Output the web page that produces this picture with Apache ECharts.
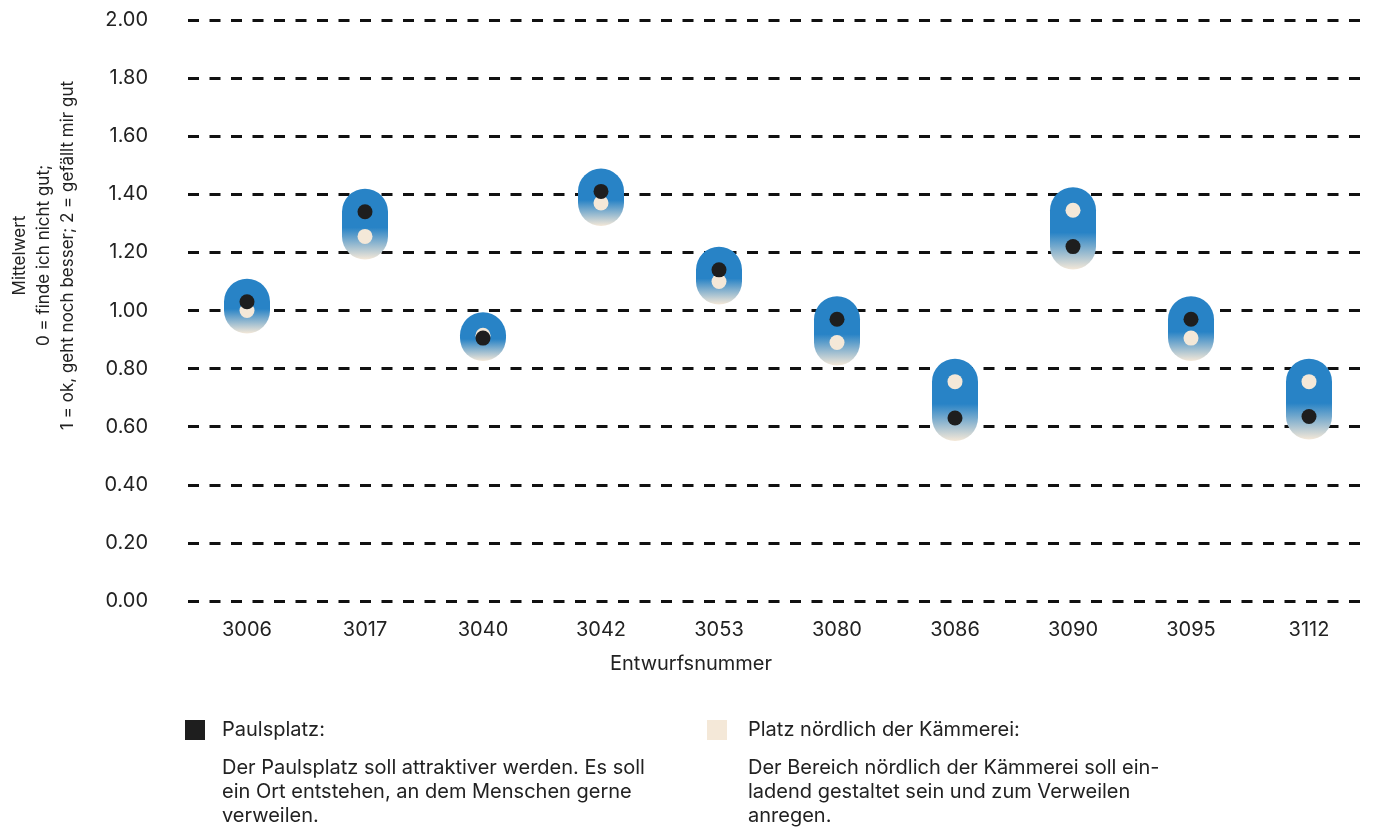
<!DOCTYPE html>
<html>
<head>
<meta charset="utf-8">
<title>Mittelwert je Entwurf</title>
<script src="https://cdn.jsdelivr.net/npm/echarts@6/dist/echarts.min.js"></script>
<style>
  html, body { margin: 0; padding: 0; background: #fff; }
  #chart { width: 1382px; height: 828px; }
</style>
</head>
<body>
<div id="chart"></div>
<script>
// Entwurfsnummern
const entwuerfe = ['3006', '3017', '3040', '3042', '3053', '3080', '3086', '3090', '3095', '3112']
// Mittelwerte Paulsplatz (schwarz)
const paulsplatz = [1.03, 1.34, 0.905, 1.41, 1.14, 0.97, 0.63, 1.22, 0.97, 0.635]
// Mittelwerte Platz nördlich der Kämmerei (beige)
const kaemmerei = [1.00, 1.255, 0.915, 1.37, 1.10, 0.89, 0.755, 1.345, 0.905, 0.755]

const BLUE = '#2883c6'
const BEIGE = '#f4e8d8'
const BLACK = '#1e1e1e'
const FONT = 'Inter'

// Spanne je Entwurf fuer die Kapsel
const spannen = entwuerfe.map((e, i) => [i, Math.min(paulsplatz[i], kaemmerei[i]), Math.max(paulsplatz[i], kaemmerei[i])])

const chart = echarts.init(document.getElementById('chart'))

chart.setOption({
  animation: false,
  textStyle: { fontFamily: FONT },
  grid: { left: 186, right: 14, top: 20, bottom: 227 },
  legend: [
    {
      data: ['Paulsplatz'],
      left: 185, top: 720, padding: 0,
      icon: 'rect', itemWidth: 20, itemHeight: 20,
      formatter: n => n + ':',
      textStyle: { fontSize: 20, color: '#222', padding: [0, 0, 0, 12] }
    },
    {
      data: ['Platz nördlich der Kämmerei'],
      left: 707, top: 720, padding: 0,
      icon: 'rect', itemWidth: 20, itemHeight: 20,
      formatter: n => n + ':',
      textStyle: { fontSize: 20, color: '#222', padding: [0, 0, 0, 16] }
    }
  ],
  graphic: [
    {
      type: 'text', left: 222, top: 756,
      style: {
        text: 'Der Paulsplatz soll attraktiver werden. Es soll\nein Ort entstehen, an dem Menschen gerne\nverweilen.',
        font: '20px ' + FONT, fill: '#222', lineHeight: 24
      }
    },
    {
      type: 'text', left: 748, top: 756,
      style: {
        text: 'Der Bereich nördlich der Kämmerei soll ein-\nladend gestaltet sein und zum Verweilen\nanregen.',
        font: '20px ' + FONT, fill: '#222', lineHeight: 24
      }
    }
  ],
  xAxis: {
    type: 'category',
    data: entwuerfe,
    name: 'Entwurfsnummer',
    nameLocation: 'middle',
    nameGap: 53,
    nameTextStyle: { fontSize: 20, color: '#222', padding: [0, 174, 0, 0] },
    axisLine: { show: false },
    axisTick: { show: false },
    axisLabel: { fontSize: 20, color: '#222', margin: 19 }
  },
  yAxis: {
    type: 'value',
    min: 0, max: 2, interval: 0.2,
    name: 'Mittelwert\n0 = finde ich nicht gut;\n1 = ok, geht noch besser; 2 = gefällt mir gut',
    nameLocation: 'middle',
    nameRotate: 90,
    nameGap: 108,
    nameTextStyle: { fontSize: 17, color: '#222', lineHeight: 24, padding: [0, 0, 0, 110] },
    axisLabel: { fontSize: 20, color: '#222', margin: 40, formatter: v => v.toFixed(2) },
    splitLine: { lineStyle: { color: '#111', width: 3, type: [11, 10.5] } }
  },
  series: [
    {
      type: 'custom',
      name: 'Spanne',
      data: spannen,
      encode: { x: 0, y: [1, 2] },
      z: 2,
      renderItem: (params, api) => {
        const lo = api.coord([api.value(0), api.value(1)])
        const hi = api.coord([api.value(0), api.value(2)])
        const r = 23
        return {
          type: 'rect',
          shape: { x: hi[0] - r, y: hi[1] - r, width: 2 * r, height: lo[1] - hi[1] + 2 * r, r: r },
          style: {
            fill: new echarts.graphic.LinearGradient(0, 0, 0, 1, [
              { offset: 0, color: BLUE },
              { offset: 0.55, color: BLUE },
              { offset: 1, color: BEIGE }
            ])
          }
        }
      }
    },
    {
      type: 'scatter',
      name: 'Platz nördlich der Kämmerei',
      data: kaemmerei,
      symbolSize: 15,
      z: 3,
      itemStyle: { color: BEIGE, opacity: 1 }
    },
    {
      type: 'scatter',
      name: 'Paulsplatz',
      data: paulsplatz,
      symbolSize: 15,
      z: 4,
      itemStyle: { color: BLACK, opacity: 1 }
    }
  ]
})
</script>
</body>
</html>
